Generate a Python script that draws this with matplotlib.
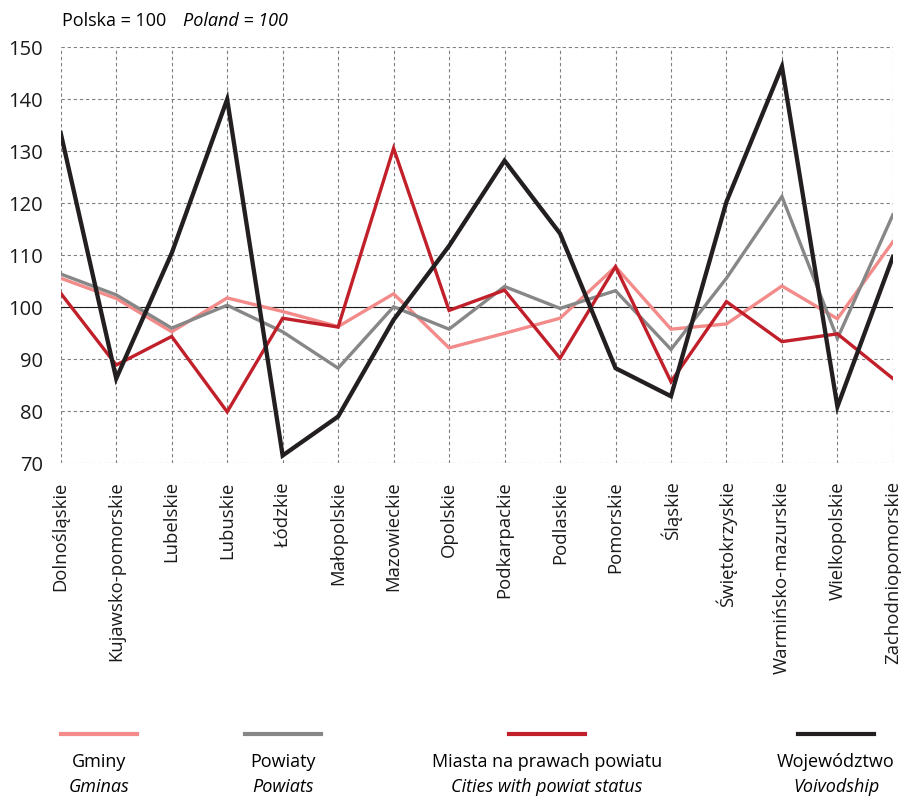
import numpy as np
import matplotlib
matplotlib.use("Agg")
import matplotlib.pyplot as plt

plt.rcParams['font.family'] = ['Open Sans', 'DejaVu Sans']

# województwa
regions = ["Dolnośląskie", "Kujawsko-pomorskie", "Lubelskie", "Lubuskie", "Łódzkie",
           "Małopolskie", "Mazowieckie", "Opolskie", "Podkarpackie", "Podlaskie",
           "Pomorskie", "Śląskie", "Świętokrzyskie", "Warmińsko-mazurskie",
           "Wielkopolskie", "Zachodniopomorskie"]

# Polska = 100
gminy = [105.6, 101.7, 95.3, 101.8, 99.2, 96.3, 102.6, 92.2, 95.0, 97.9,
         107.8, 95.8, 96.8, 104.1, 97.8, 112.6]
powiaty = [106.4, 102.4, 96.0, 100.4, 95.3, 88.3, 100.1, 95.8, 104.0, 99.8,
           103.2, 91.9, 105.6, 121.3, 94.0, 117.8]
miasta = [102.7, 88.9, 94.4, 79.9, 97.9, 96.2, 130.6, 99.4, 103.3, 90.2,
          107.8, 85.7, 101.1, 93.4, 94.9, 86.3]
wojewodztwo = [133.5, 86.3, 110.4, 140.0, 71.5, 79.0, 97.6, 111.8, 128.2, 114.2,
               88.3, 82.9, 120.3, 146.3, 80.9, 109.7]

legend_pl = ["Gminy", "Powiaty", "Miasta na prawach powiatu", "Województwo"]
legend_en = ["Gminas", "Powiats", "Cities with powiat status", "Voivodship"]
colors = ["#f28b89", "#878787", "#c1202b", "#231f20"]
widths = [2.4, 2.4, 2.4, 3.1]

fig = plt.figure(figsize=(9.01, 7.98), dpi=100)
ax = fig.add_axes([0.0674, 0.4194, 0.9236, 0.5213])

x = np.arange(len(regions))
series = [gminy, powiaty, miasta, wojewodztwo]
# kolejność rysowania: powiaty, gminy, miasta, województwo
for i in [1, 0, 2, 3]:
    ax.plot(x, series[i], color=colors[i], lw=widths[i], zorder=3 + i,
            solid_joinstyle='miter')

ax.axhline(100, color="#1a1a1a", lw=0.8, zorder=2)
ax.set_xlim(0, len(regions) - 1)
ax.set_ylim(70, 150)
ax.set_yticks(range(70, 151, 10))
ax.set_xticks(x)
ax.set_xticklabels(regions, rotation=90, fontsize=13.3, va='top', ha='center')
ax.tick_params(axis='both', length=0, colors="#1a1a1a")
ax.tick_params(axis='y', labelsize=14.5, pad=13)
ax.tick_params(axis='x', pad=13)
ax.grid(True, color="#808080", ls=(0, (3, 2.5)), lw=0.8)
for s in ax.spines.values():
    s.set_visible(False)

fig.text(62 / 901, 1 - 21 / 798, "Polska = 100", fontsize=13, va='center', ha='left')
fig.text(183 / 901, 1 - 21 / 798, "Poland = 100", fontsize=13, va='center', ha='left',
         style='italic')

# legenda
centers = [99, 283, 547, 836]
for cx, c, pl, en in zip(centers, colors, legend_pl, legend_en):
    fig.add_artist(plt.Line2D([(cx - 38) / 901, (cx + 38) / 901],
                              [1 - 734 / 798, 1 - 734 / 798], color=c, lw=3.0))
    fig.text(cx / 901, 1 - 762 / 798, pl, fontsize=13, ha='center', va='center')
    fig.text(cx / 901, 1 - 787 / 798, en, fontsize=13, ha='center', va='center',
             style='italic')

fig.savefig("out.png", dpi=100)
